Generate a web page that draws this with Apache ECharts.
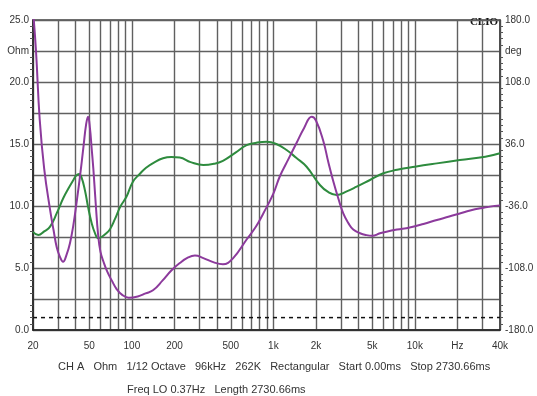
<!DOCTYPE html>
<html>
<head>
<meta charset="utf-8">
<script src="https://cdn.jsdelivr.net/npm/echarts@6/dist/echarts.min.js"></script>
<style>html,body{margin:0;padding:0;background:#fff}#c{width:537px;height:396px}</style>
</head>
<body>
<div id="c"></div>
<script>
// Impedance magnitude (Ohm) vs frequency (Hz)
const impedance = [
  [20, 25.8], [21, 22.5], [22.3, 17.0], [24, 13.0], [26.4, 9.7], [28, 8.0], [29.4, 6.7], [31, 5.9],
  [32.6, 5.5], [34.6, 6.1], [36.5, 7.0], [38.5, 8.4], [41, 10.6], [43, 12.4], [45.5, 14.8], [47.5, 16.6],
  [49, 17.2], [50.5, 16.3], [52, 14.6], [53.4, 13.0], [55.5, 10.2], [57.8, 7.6], [60, 6.3], [63, 5.5], [67, 4.7], [72, 4.0],
  [78, 3.3], [85, 2.85], [95, 2.6], [110, 2.7], [125, 2.95], [141, 3.2], [165, 4.0], [190, 4.8],
  [218, 5.4], [250, 5.85], [279, 6.0], [320, 5.8], [380, 5.45], [440, 5.3], [520, 5.8], [647, 7.3],
  [750, 8.3], [849, 9.4], [1000, 11.0], [1112, 12.4], [1280, 13.8], [1461, 15.1], [1650, 16.3], [1866, 17.2],
  [2000, 16.9], [2247, 15.3], [2450, 13.5], [2637, 12.1], [2880, 10.6], [3120, 9.4], [3400, 8.6], [3670, 8.1],
  [4100, 7.8], [4560, 7.65], [5000, 7.6], [5670, 7.8], [6300, 7.93], [7500, 8.1], [9200, 8.27], [11500, 8.55],
  [14300, 8.87], [17500, 9.15], [20800, 9.4], [25000, 9.65], [29000, 9.81], [34000, 9.95], [40000, 10.05]
];
// Phase (deg) vs frequency (Hz)
const phase = [
  [20, -66], [21.8, -69.7], [24, -65.5], [26.4, -60], [29.5, -44], [32.7, -27], [35.5, -16], [38.5, -6],
  [40.5, -0.5], [42.3, 1.2], [44, -2.5], [46.6, -18], [49, -37], [52, -56], [55, -68], [57.8, -73.5],
  [61, -72], [65, -68.5], [70, -63], [76, -51], [82.7, -37], [91.7, -25], [101.5, -8], [114, 1.5],
  [126, 8.5], [145, 15], [166, 19.4], [190, 20.8], [218, 20.2], [260, 15], [320, 11.6], [380, 13],
  [440, 16.5], [540, 26], [647, 34.6], [760, 37.5], [898, 38.7], [1050, 36], [1240, 29], [1450, 20],
  [1718, 9.6], [2133, -11.6], [2450, -20], [2800, -23.2], [3300, -19], [3880, -13.6], [4820, -5.8], [5990, 2],
  [7500, 6], [10000, 9.6], [14300, 13.5], [20800, 17.3], [31500, 21.2], [40000, 25.2]
];
// Reference (dashed) level in Ohm
const refLevel = [[20, 1.0], [40000, 1.0]];

// Axis ticks / labels
const xGridValues = [20,30,40,50,60,70,80,90,100,200,300,400,500,600,700,800,900,1000,2000,3000,4000,5000,6000,7000,8000,9000,10000,20000,30000,40000];
const xLabelValues = [20, 50, 100, 200, 500, 1000, 2000, 5000, 10000, 20000, 40000];
const xLabelTexts  = ['20','50','100','200','500','1k','2k','5k','10k','Hz','40k'];
const leftLabelMap  = {'25':'25.0','22.5':'Ohm','20':'20.0','15':'15.0','10':'10.0','5':'5.0','0':'0.0'};
const rightLabelMap = {'180':'180.0','144':'deg','108':'108.0','36':'36.0','-36':'-36.0','-108':'-108.0','-180':'-180.0'};
const footer1 = 'CH A   Ohm   1/12 Octave   96kHz   262K   Rectangular   Start 0.00ms   Stop 2730.66ms';
const footer2 = 'Freq LO 0.37Hz   Length 2730.66ms';

const FONT = 'Liberation Sans, Arial, sans-serif';
const GRID = '#606060';

const chart = echarts.init(document.getElementById('c'), null, {renderer: 'canvas'});
chart.setOption({
  animation: false,
  backgroundColor: '#ffffff',
  grid: {left: 33, right: 37, top: 20, bottom: 66, show: true, borderColor: '#444', borderWidth: 1.5},
  xAxis: {
    type: 'log', logBase: 10, min: 20, max: 40000,
    axisLine: {show: true, lineStyle: {color: '#222', width: 1.5}},
    axisTick: {show: false, customValues: xGridValues},
    splitLine: {show: true, lineStyle: {color: GRID, width: 1.4}},
    axisLabel: {
      customValues: xLabelValues, color: '#333', fontFamily: FONT, fontSize: 10, margin: 11,
      formatter: function (v) {
        let best = 0, bd = 1e9;
        xLabelValues.forEach(function (x, i) { const d = Math.abs(Math.log10(x) - Math.log10(v)); if (d < bd) { bd = d; best = i; } });
        return xLabelTexts[best];
      }
    }
  },
  yAxis: [{
    type: 'value', min: 0, max: 25, interval: 2.5,
    axisLine: {show: true, lineStyle: {color: '#222', width: 1.5}},
    axisTick: {show: false},
    minorTick: {show: true, splitNumber: 5, length: 3, lineStyle: {color: '#555'}},
    splitLine: {show: true, lineStyle: {color: GRID, width: 1.4}},
    axisLabel: {color: '#333', fontFamily: FONT, fontSize: 10, margin: 4,
      formatter: function (v) { const k = String(Math.round(v * 10) / 10); return leftLabelMap[k] || ''; }}
  }, {
    type: 'value', min: -180, max: 180, interval: 36, position: 'right',
    axisLine: {show: true, lineStyle: {color: '#444', width: 1.5}},
    axisTick: {show: false},
    minorTick: {show: true, splitNumber: 5, length: 3, lineStyle: {color: '#555'}},
    splitLine: {show: false},
    axisLabel: {color: '#333', fontFamily: FONT, fontSize: 10, margin: 5,
      formatter: function (v) { const k = String(Math.round(v)); return rightLabelMap[k] || ''; }}
  }],
  series: [{
    type: 'line', name: 'Phase', yAxisIndex: 1, data: phase, smooth: 0.45, showSymbol: false,
    lineStyle: {color: '#2e8b3e', width: 2}, z: 3
  }, {
    type: 'line', name: 'Impedance', yAxisIndex: 0, data: impedance, smooth: 0.45, showSymbol: false,
    lineStyle: {color: '#8c3a9c', width: 2}, z: 4
  }, {
    type: 'line', name: 'Ref', yAxisIndex: 0, data: refLevel, showSymbol: false,
    lineStyle: {color: '#111', width: 1.5, type: [4, 4]}, z: 2
  }],
  graphic: [
    {type: 'text', right: 39, top: 17, style: {text: 'CLIO', font: 'bold 11px "Liberation Serif", "DejaVu Serif", serif', fill: '#111'}},
    {type: 'text', left: 58, top: 361, style: {text: footer1, font: '11px ' + FONT, fill: '#333'}},
    {type: 'text', left: 127, top: 384, style: {text: footer2, font: '11px ' + FONT, fill: '#333'}}
  ]
});
</script>
</body>
</html>
